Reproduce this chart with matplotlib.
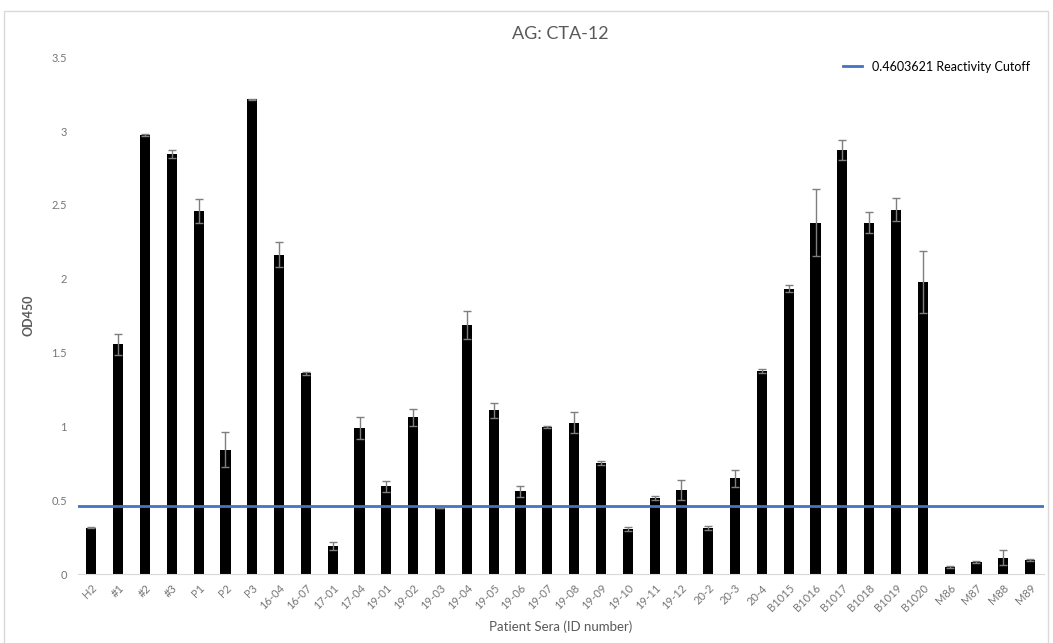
import numpy as np
import matplotlib.pyplot as plt
from matplotlib.patches import Rectangle

# data
samples = ['H2', '#1', '#2', '#3', 'P1', 'P2', 'P3', '16-04', '16-07', '17-01',
           '17-04', '19-01', '19-02', '19-03', '19-04', '19-05', '19-06', '19-07',
           '19-08', '19-09', '19-10', '19-11', '19-12', '20-2', '20-3', '20-4',
           'B1015', 'B1016', 'B1017', 'B1018', 'B1019', 'B1020',
           'M86', 'M87', 'M88', 'M89']
od450 = [0.316, 1.557, 2.972, 2.844, 2.46, 0.844, 3.214, 2.164, 1.359, 0.192,
         0.991, 0.594, 1.061, 0.449, 1.69, 1.11, 0.56, 0.995,
         1.025, 0.754, 0.307, 0.517, 0.569, 0.314, 0.648, 1.377,
         1.934, 2.381, 2.873, 2.381, 2.469, 1.979,
         0.05, 0.081, 0.113, 0.095]
err = [0.005, 0.07, 0.005, 0.025, 0.08, 0.12, 0.005, 0.085, 0.01, 0.025,
       0.075, 0.035, 0.06, 0.0, 0.095, 0.05, 0.04, 0.005,
       0.07, 0.013, 0.013, 0.013, 0.07, 0.015, 0.06, 0.013,
       0.025, 0.225, 0.068, 0.068, 0.077, 0.208,
       0.005, 0.005, 0.05, 0.005]
cutoff = 0.4603621

plt.rcParams['font.family'] = ['Lato', 'DejaVu Sans']
grey = '#595959'

fig = plt.figure(figsize=(10.53, 6.43), dpi=100)
ax = fig.add_axes([0.074, 0.107, 0.917, 0.804])

x = np.arange(len(samples))
ax.bar(x, od450, width=0.38, color='black', zorder=2)
ax.errorbar(x, od450, yerr=err, fmt='none', ecolor='#7f7f7f', elinewidth=1,
            capsize=3, capthick=1, zorder=3)
ax.axhline(cutoff, color='#4472c4', lw=2, zorder=4,
           label=f'{cutoff} Reactivity Cutoff')

ax.set_xlim(-0.5, len(samples) - 0.5)
ax.set_ylim(0, 3.5)
ax.set_yticks(np.arange(0, 3.51, 0.5))
ax.set_yticklabels(['0', '0.5', '1', '1.5', '2', '2.5', '3', '3.5'])
ax.set_xticks(x)
ax.set_xticklabels(samples, rotation=45, ha='right', rotation_mode='anchor')
ax.tick_params(axis='both', length=0, colors='#767676', labelsize=8)
ax.tick_params(axis='x', pad=6)
ax.tick_params(axis='y', pad=8)

for s in ['top', 'right', 'left']:
    ax.spines[s].set_visible(False)
ax.spines['bottom'].set_color('#d9d9d9')

ax.set_title('AG: CTA-12', fontsize=13, color=grey, pad=13)
ax.set_ylabel('OD450', fontsize=9, color=grey, fontweight='bold', labelpad=12)
ax.set_xlabel('Patient Sera (ID number)', fontsize=9.5, color=grey, labelpad=5)

leg = ax.legend(loc='upper right', frameon=False, fontsize=9,
                handlelength=1.5, bbox_to_anchor=(0.998, 1.015))
for t in leg.get_texts():
    t.set_color('black')

fig.patches.append(Rectangle((0.004, -0.01), 0.991, 0.993, transform=fig.transFigure,
                             fill=False, edgecolor='#d9d9d9', lw=1))

fig.savefig('out.png', dpi=100, facecolor='white')
